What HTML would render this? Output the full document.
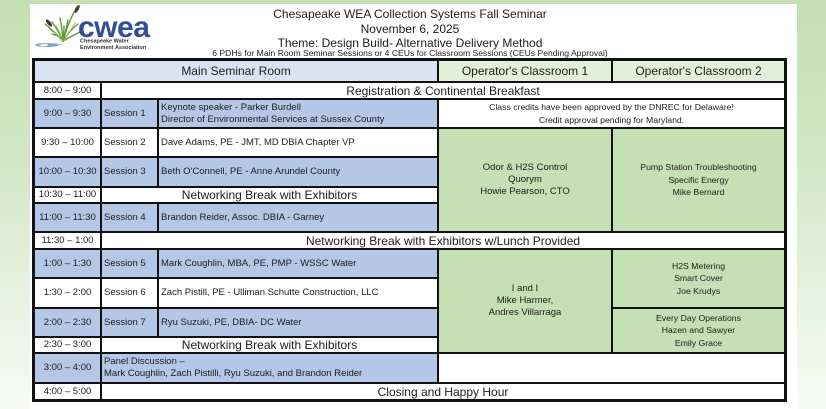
<!DOCTYPE html>
<html>
<head>
<meta charset="utf-8">
<style>
html,body{margin:0;padding:0;}
body{width:826px;height:409px;position:relative;overflow:hidden;
background:linear-gradient(to bottom,#c4dfb2 0%,#d3e7c6 40%,#e9f2e3 75%,#f8faf6 100%);
font-family:"Liberation Sans",Arial,sans-serif;color:#1c1c1c;}
.panel{position:absolute;left:30px;top:4px;width:767px;height:405px;background:#fff;}
.t{position:absolute;left:150px;width:520px;text-align:center;white-space:nowrap;}
.tbl{position:absolute;left:32px;top:58px;width:755px;height:344px;background:#111;}
.c{position:absolute;display:flex;align-items:center;justify-content:center;text-align:center;white-space:nowrap;overflow:hidden;font-size:9.5px;line-height:12px;}
.l{justify-content:flex-start;text-align:left;padding-left:2px;box-sizing:border-box;font-size:9.5px;}
.b{background:#b4c7e7;}
.w{background:#fff;}
.g{background:#c5e0b4;}
.big{font-size:12px;}
.cal{font-size:8.7px;line-height:12.5px;}
.ar{font-size:9.5px;line-height:12px;}
</style>
</head>
<body>
<div class="panel"></div>

<svg style="position:absolute;left:0;top:0" width="170" height="58" viewBox="0 0 170 58">
  <ellipse cx="47" cy="45" rx="12" ry="2" fill="#6a86b8" opacity="0.8"/>
  <ellipse cx="44" cy="45" rx="4" ry="1.2" fill="#fff"/>
  <path d="M35 45 Q50 42 62 45" stroke="#9fb3d6" stroke-width="1" fill="none"/>
  <g stroke="#5e9b3a" stroke-width="1.4" fill="none" stroke-linecap="round">
    <path d="M63 41 Q55 32 45 24"/>
    <path d="M63 41 Q58 30 52 22"/>
    <path d="M63 41 Q62 28 60 18"/>
    <path d="M63 41 Q67 26 74 12"/>
    <path d="M63 41 Q70 30 78 24"/>
    <path d="M63 41 Q72 36 80 32"/>
    <path d="M63 41 Q60 36 52 34"/>
    <path d="M63 41 Q66 30 68 20"/>
    <path d="M63 41 Q64 33 64 26"/>
  </g>
  <g stroke="#8bbf5c" stroke-width="1" fill="none">
    <path d="M62 41 Q57 34 49 29"/>
    <path d="M64 41 Q69 32 76 22"/>
    <path d="M63 41 Q60 32 56 26"/>
  </g>
  <ellipse cx="49" cy="23" rx="1.8" ry="4.5" fill="#4a3a28" transform="rotate(-40 49 23)"/>
  <ellipse cx="77" cy="9" rx="1.8" ry="4.5" fill="#4a3a28" transform="rotate(30 77 9)"/>
  <text x="78" y="37" font-family="Liberation Sans, Arial, sans-serif" font-weight="bold" font-size="30" fill="#2f4f9c" letter-spacing="-0.5">cwea</text>
  <text x="80" y="42.5" font-family="Liberation Sans, Arial, sans-serif" font-weight="bold" font-size="5.5" fill="#333">Chesapeake Water</text>
  <text x="80" y="49" font-family="Liberation Sans, Arial, sans-serif" font-weight="bold" font-size="5.5" fill="#333">Environment Association</text>
</svg>

<div class="t" style="top:6px;font-size:12px;line-height:16px;">Chesapeake WEA Collection Systems Fall Seminar</div>
<div class="t" style="top:20.5px;font-size:12px;line-height:16px;">November 6, 2025</div>
<div class="t" style="top:35px;font-size:12px;line-height:16px;">Theme: Design Build- Alternative Delivery Method</div>
<div class="t" style="top:48px;font-size:8.6px;line-height:11px;">6 PDHs for Main Room Seminar Sessions or 4 CEUs for Classroom Sessions (CEUs Pending Approval)</div>

<div class="tbl"></div>

<!-- header -->
<div class="c big" style="left:35px;top:61px;width:402px;height:20px;background:#dae3f3;">Main Seminar Room</div>
<div class="c big" style="left:439px;top:61px;width:172px;height:20px;background:#e2efda;">Operator's Classroom 1</div>
<div class="c big" style="left:613px;top:61px;width:171px;height:20px;background:#e2efda;">Operator's Classroom 2</div>

<!-- 8:00 -->
<div class="c w" style="left:35px;top:83px;width:65px;height:15px;">8:00 – 9:00</div>
<div class="c w big" style="left:102px;top:83px;width:682px;height:15px;">Registration &amp; Continental Breakfast</div>

<!-- 9:00 -->
<div class="c b" style="left:35px;top:100px;width:65px;height:27px;">9:00 – 9:30</div>
<div class="c b l" style="left:102px;top:100px;width:55px;height:27px;">Session 1</div>
<div class="c b l" style="left:159px;top:100px;width:278px;height:27px;">Keynote speaker - Parker Burdell<br>Director of Environmental Services at Sussex County</div>
<div class="c w cal" style="left:439px;top:100px;width:345px;height:27px;">Class credits have been approved by the DNREC for Delaware!<br>Credit approval pending for Maryland.</div>

<!-- 9:30 -->
<div class="c w" style="left:35px;top:129px;width:65px;height:27px;">9:30 – 10:00</div>
<div class="c w l" style="left:102px;top:129px;width:55px;height:27px;">Session 2</div>
<div class="c w l" style="left:159px;top:129px;width:278px;height:27px;">Dave Adams, PE - JMT, MD DBIA Chapter VP</div>
<div class="c g ar" style="left:439px;top:129px;width:172px;height:102px;">Odor &amp; H2S Control<br>Quorym<br>Howie Pearson, CTO</div>
<div class="c g cal" style="left:613px;top:129px;width:171px;height:102px;">Pump Station Troubleshooting<br>Specific Energy<br>Mike Bernard</div>

<!-- 10:00 -->
<div class="c b" style="left:35px;top:158px;width:65px;height:28px;">10:00 – 10:30</div>
<div class="c b l" style="left:102px;top:158px;width:55px;height:28px;">Session 3</div>
<div class="c b l" style="left:159px;top:158px;width:278px;height:28px;">Beth O'Connell, PE - Anne Arundel County</div>

<!-- 10:30 -->
<div class="c w" style="left:35px;top:188px;width:65px;height:14px;">10:30 – 11:00</div>
<div class="c w big" style="left:102px;top:188px;width:335px;height:14px;">Networking Break with Exhibitors</div>

<!-- 11:00 -->
<div class="c b" style="left:35px;top:204px;width:65px;height:27px;">11:00 – 11:30</div>
<div class="c b l" style="left:102px;top:204px;width:55px;height:27px;">Session 4</div>
<div class="c b l" style="left:159px;top:204px;width:278px;height:27px;">Brandon Reider, Assoc. DBIA - Garney</div>

<!-- 11:30 -->
<div class="c w" style="left:35px;top:233px;width:65px;height:15px;">11:30 – 1:00</div>
<div class="c w big" style="left:102px;top:233px;width:682px;height:15px;">Networking Break with Exhibitors w/Lunch Provided</div>

<!-- 1:00 -->
<div class="c b" style="left:35px;top:250px;width:65px;height:27px;">1:00 – 1:30</div>
<div class="c b l" style="left:102px;top:250px;width:55px;height:27px;">Session 5</div>
<div class="c b l" style="left:159px;top:250px;width:278px;height:27px;">Mark Coughlin, MBA, PE, PMP - WSSC Water</div>
<div class="c g ar" style="left:439px;top:250px;width:172px;height:102px;">I and I<br>Mike Harmer,<br>Andres Villarraga</div>
<div class="c g cal" style="left:613px;top:250px;width:171px;height:57px;">H2S Metering<br>Smart Cover<br>Joe Krudys</div>

<!-- 1:30 -->
<div class="c w" style="left:35px;top:279px;width:65px;height:28px;">1:30 – 2:00</div>
<div class="c w l" style="left:102px;top:279px;width:55px;height:28px;">Session 6</div>
<div class="c w l" style="left:159px;top:279px;width:278px;height:28px;">Zach Pistill, PE - Ulliman Schutte Construction, LLC</div>

<!-- 2:00 -->
<div class="c b" style="left:35px;top:309px;width:65px;height:27px;">2:00 – 2:30</div>
<div class="c b l" style="left:102px;top:309px;width:55px;height:27px;">Session 7</div>
<div class="c b l" style="left:159px;top:309px;width:278px;height:27px;">Ryu Suzuki, PE, DBIA- DC Water</div>
<div class="c g cal" style="left:613px;top:309px;width:171px;height:43px;">Every Day Operations<br>Hazen and Sawyer<br>Emily Grace</div>

<!-- 2:30 -->
<div class="c w" style="left:35px;top:338px;width:65px;height:14px;">2:30 – 3:00</div>
<div class="c w big" style="left:102px;top:338px;width:335px;height:14px;">Networking Break with Exhibitors</div>

<!-- 3:00 -->
<div class="c b" style="left:35px;top:354px;width:65px;height:28px;">3:00 – 4:00</div>
<div class="c b l" style="left:102px;top:354px;width:335px;height:28px;">Panel Discussion –<br>Mark Coughlin, Zach Pistilli, Ryu Suzuki, and Brandon Reider</div>
<div class="c w" style="left:439px;top:354px;width:345px;height:28px;"></div>

<!-- 4:00 -->
<div class="c w" style="left:35px;top:384px;width:65px;height:15px;">4:00 – 5:00</div>
<div class="c w big" style="left:102px;top:384px;width:682px;height:15px;">Closing and Happy Hour</div>

</body>
</html>
